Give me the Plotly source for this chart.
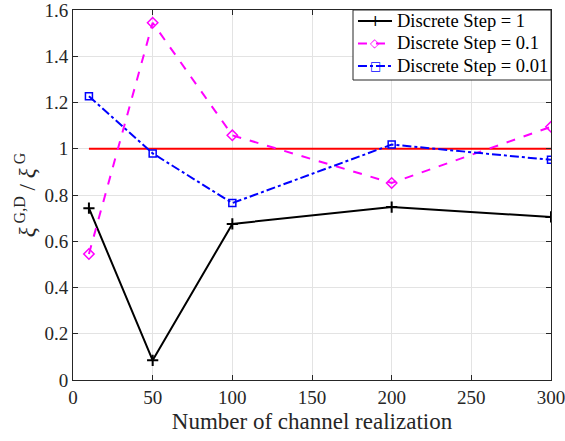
import plotly.graph_objects as go

x_vals = [10, 50, 100, 200, 300]
step_1 = [0.743, 0.085, 0.675, 0.748, 0.705]
step_01 = [0.545, 1.545, 1.058, 0.852, 1.095]
step_001 = [1.227, 0.98, 0.765, 1.018, 0.952]
ref_x = [10, 300]
ref_y = [1, 1]
series_names = ["Discrete Step = 1", "Discrete Step = 0.1", "Discrete Step = 0.01"]

FF = "Liberation Serif"
colors = ["black", "#ff00ff", "#0000ff"]
dashes = ["solid", "dash", "dashdot"]
glyphs = ["+", "◇", "□"]

fig = go.Figure()
fig.add_trace(go.Scatter(x=ref_x, y=ref_y, mode="lines", line=dict(color="#ff0000", width=2),
                         showlegend=False, hoverinfo="skip"))
fig.add_trace(go.Scatter(x=x_vals, y=step_1, mode="lines+markers", name=series_names[0],
                         line=dict(color=colors[0], width=2),
                         marker=dict(symbol="cross-thin", size=8, line=dict(color="black", width=2))))
fig.add_trace(go.Scatter(x=x_vals, y=step_01, mode="lines+markers", name=series_names[1],
                         line=dict(color=colors[1], width=2, dash="dash"),
                         marker=dict(symbol="diamond-open", size=8, color=colors[1], line=dict(width=1.5))))
fig.add_trace(go.Scatter(x=x_vals, y=step_001, mode="lines+markers", name=series_names[2],
                         line=dict(color=colors[2], width=2, dash="dashdot"),
                         marker=dict(symbol="square-open", size=7, color=colors[2], line=dict(width=1.5))))

axis_common = dict(showline=True, linecolor="#262626", linewidth=1, mirror="ticks",
                   ticks="inside", ticklen=5, tickcolor="#262626", automargin=False,
                   ticklabeloverflow="allow",
                   showgrid=True, gridcolor="#e3e3e3", gridwidth=1, zeroline=False,
                   tickfont=dict(family=FF, size=19, color="#262626"))

# compact legend (box, line samples, glyphs, labels) in plot-area coordinates
shapes = [dict(type="rect", xref="paper", yref="paper", x0=0.5858, x1=1.0, y0=0.8108, y1=1.0,
               fillcolor="white", line=dict(color="#262626", width=1), layer="above")]
annotations = []
row_y = [0.9703, 0.9095, 0.8486]
for i in range(3):
    shapes.append(dict(type="line", xref="paper", yref="paper", x0=0.5962, x1=0.6674,
                       y0=row_y[i], y1=row_y[i], layer="above",
                       line=dict(color=colors[i], width=2, dash=dashes[i])))
    annotations.append(dict(xref="paper", yref="paper", x=0.6318, y=row_y[i], text=glyphs[i],
                            showarrow=False, xanchor="center", yanchor="middle",
                            font=dict(family="DejaVu Sans", size=12 if i else 15, color=colors[i])))
    annotations.append(dict(xref="paper", yref="paper", x=0.6736, y=row_y[i], text=series_names[i],
                            showarrow=False, xanchor="left", yanchor="middle",
                            font=dict(family=FF, size=18.5, color="black")))

fig.update_layout(
    width=565, height=441,
    margin=dict(l=73, r=14, t=10, b=61),
    paper_bgcolor="white", plot_bgcolor="white",
    font=dict(family=FF, color="#262626"),
    showlegend=False,
    shapes=shapes, annotations=annotations,
    xaxis=dict(range=[0, 300], tickvals=[0, 50, 100, 150, 200, 250, 300],
               title=dict(text="Number of channel realization", font=dict(family=FF, size=23), standoff=6),
               **axis_common),
    yaxis=dict(range=[0, 1.6], tickvals=[0, 0.2, 0.4, 0.6, 0.8, 1, 1.2, 1.4, 1.6],
               ticktext=["0", "0.2", "0.4", "0.6", "0.8", "1", "1.2", "1.4", "1.6"],
               title=dict(text="<i>ξ</i><sup> G,D</sup> / <i>ξ</i><sup> G</sup>", font=dict(family=FF, size=23), standoff=2),
               **axis_common),
)

fig.write_html("out.html")
